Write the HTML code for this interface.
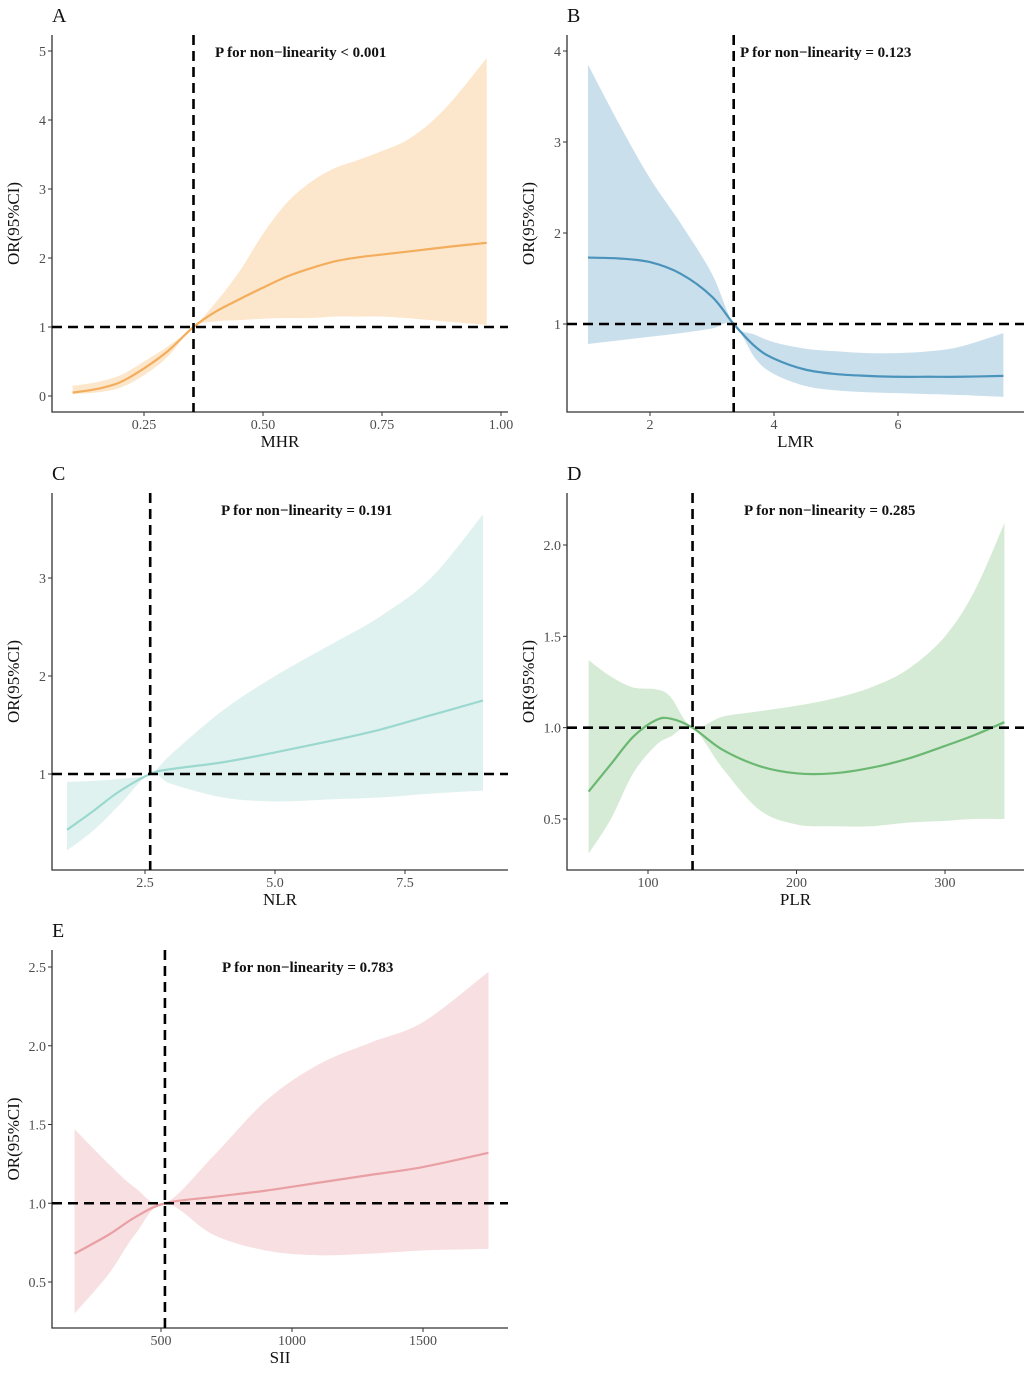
<!DOCTYPE html>
<html><head><meta charset="utf-8"><style>
html,body{margin:0;padding:0;background:#fff;}
svg{display:block;font-family:"Liberation Serif",serif;}
.tick{font-size:14px;fill:#4d4d4d;}
.ttl{font-size:17px;fill:#111;}
.lab{font-size:20px;fill:#111;}
.ann{font-size:15px;font-weight:bold;fill:#111;}
</style></head><body>
<svg id="chart" width="1026" height="1373" viewBox="0 0 1026 1373"></svg>
<script>
// Panel A (MHR)
const aX=[0.1,0.15,0.2,0.25,0.3,0.354,0.4,0.45,0.5,0.55,0.6,0.65,0.7,0.75,0.8,0.85,0.9,0.97];
const aY=[0.05,0.1,0.2,0.4,0.65,1.0,1.22,1.4,1.57,1.73,1.85,1.95,2.01,2.05,2.09,2.13,2.17,2.22];
const aHi=[0.15,0.2,0.3,0.5,0.72,1.0,1.35,1.8,2.35,2.8,3.1,3.3,3.42,3.55,3.7,3.95,4.3,4.9];
const aLo=[0.03,0.05,0.12,0.3,0.57,1.0,1.08,1.1,1.12,1.13,1.13,1.15,1.15,1.15,1.13,1.1,1.07,1.03];
const aXT=[0.25,0.5,0.75,1.0], aXL=["0.25","0.50","0.75","1.00"];
const aYT=[0,1,2,3,4,5], aYL=["0","1","2","3","4","5"];
// Panel B (LMR)
const bX=[1,1.5,2,2.5,3,3.35,3.7,4,4.5,5,5.5,6,6.5,7,7.7];
const bY=[1.73,1.72,1.68,1.55,1.3,1.0,0.75,0.62,0.5,0.45,0.43,0.42,0.42,0.42,0.43];
const bHi=[3.85,3.2,2.6,2.1,1.55,1.0,0.88,0.8,0.73,0.7,0.68,0.68,0.7,0.75,0.9];
const bLo=[0.78,0.82,0.86,0.9,0.95,1.0,0.62,0.45,0.32,0.27,0.25,0.24,0.23,0.22,0.2];
const bXT=[2,4,6], bXL=["2","4","6"];
const bYT=[1,2,3,4], bYL=["1","2","3","4"];
// Panel C (NLR)
const cX=[1,1.5,2,2.6,3,4,5,6,7,8,9];
const cY=[0.43,0.62,0.82,1.0,1.05,1.12,1.22,1.33,1.45,1.6,1.75];
const cHi=[0.92,0.93,0.95,1.0,1.2,1.65,2.0,2.3,2.6,3.0,3.65];
const cLo=[0.22,0.42,0.68,1.0,0.9,0.76,0.72,0.74,0.76,0.8,0.83];
const cXT=[2.5,5,7.5], cXL=["2.5","5.0","7.5"];
const cYT=[1,2,3], cYL=["1","2","3"];
// Panel D (PLR)
const dX=[60,75,90,105,115,130,150,175,200,225,250,275,300,320,340];
const dY=[0.65,0.8,0.95,1.04,1.05,1.0,0.88,0.79,0.75,0.75,0.78,0.83,0.9,0.96,1.03];
const dHi=[1.37,1.28,1.22,1.21,1.17,1.0,1.06,1.09,1.12,1.16,1.22,1.32,1.5,1.75,2.12];
const dLo=[0.31,0.5,0.75,0.9,0.95,1.0,0.78,0.55,0.47,0.46,0.46,0.48,0.49,0.5,0.5];
const dXT=[100,200,300], dXL=["100","200","300"];
const dYT=[0.5,1.0,1.5,2.0], dYL=["0.5","1.0","1.5","2.0"];
// Panel E (SII)
const eX=[170,300,400,515,700,900,1100,1300,1500,1750];
const eY=[0.68,0.8,0.91,1.0,1.04,1.08,1.13,1.18,1.23,1.32];
const eHi=[1.47,1.25,1.1,1.0,1.3,1.65,1.88,2.02,2.15,2.47];
const eLo=[0.3,0.55,0.8,1.0,0.8,0.7,0.67,0.68,0.7,0.71];
const eXT=[500,1000,1500], eXL=["500","1000","1500"];
const eYT=[0.5,1.0,1.5,2.0,2.5], eYL=["0.5","1.0","1.5","2.0","2.5"];
// Reference lines (knot)
const refX=[0.354,3.35,2.6,130,515];

const NS="http://www.w3.org/2000/svg";
const svg=document.getElementById('chart');
function mk(tag,attrs,parent){const e=document.createElementNS(NS,tag);for(const k in attrs)e.setAttribute(k,attrs[k]);(parent||svg).appendChild(e);return e;}
function spline(pts){let d="M"+pts[0][0]+","+pts[0][1];for(let i=0;i<pts.length-1;i++){const p0=pts[Math.max(0,i-1)],p1=pts[i],p2=pts[i+1],p3=pts[Math.min(pts.length-1,i+2)];const c1=[p1[0]+(p2[0]-p0[0])/6,p1[1]+(p2[1]-p0[1])/6],c2=[p2[0]-(p3[0]-p1[0])/6,p2[1]-(p3[1]-p1[1])/6];d+=" C"+c1[0]+","+c1[1]+" "+c2[0]+","+c2[1]+" "+p2[0]+","+p2[1];}return d;}
function splineCont(pts){return spline(pts).replace(/^M/,"L");}

function panel(c){
  const g=mk('g',{});
  
  
  const sx=v=>c.px0+(v-c.vx0)*(c.px1-c.px0)/(c.vx1-c.vx0);
  const sy=v=>c.py0+(v-c.vy0)*(c.py1-c.py0)/(c.vy1-c.vy0);
  const up=c.X.map((x,i)=>[sx(x),sy(c.Hi[i])]);
  const dn=c.X.map((x,i)=>[sx(x),sy(c.Lo[i])]).reverse();
  const band=mk('path',{d:spline(up)+" "+splineCont(dn)+" Z",fill:c.fill},g);
  
  
  const ln=mk('path',{d:spline(c.X.map((x,i)=>[sx(x),sy(c.Y[i])])),fill:'none',stroke:c.line,'stroke-width':2.2},g);
  
  
  const ax=mk('path',{d:`M${c.ax},${c.top} L${c.ax},${c.ay} L${c.right},${c.ay}`,fill:'none',stroke:'#333','stroke-width':1.3},g);
  
  
  c.XT.forEach((v,i)=>{const x=sx(v);mk('line',{x1:x,x2:x,y1:c.ay,y2:c.ay+4,stroke:'#333'},g);
    const t=mk('text',{x:x,y:c.ay+17,'text-anchor':'middle',class:'tick'},g);t.textContent=c.XL[i];
    
    });
  c.YT.forEach((v,i)=>{const y=sy(v);mk('line',{x1:c.ax-4,x2:c.ax,y1:y,y2:y,stroke:'#333'},g);
    const t=mk('text',{x:c.ax-6,y:y+5,'text-anchor':'end',class:'tick'},g);t.textContent=c.YL[i];
    
    });
  const rx=sx(c.ref);
  const vl=mk('line',{x1:rx,x2:rx,y1:c.top,y2:c.ay,stroke:'#000','stroke-width':2.6,'stroke-dasharray':'10,6'},g);
  
  
  const hl=mk('line',{x1:c.ax,x2:c.right,y1:sy(1),y2:sy(1),stroke:'#000','stroke-width':2.6,'stroke-dasharray':'10,6'},g);
  
  
  const xt=mk('text',{x:(c.ax+c.right)/2,y:c.ay+35,'text-anchor':'middle',class:'ttl'},g);xt.textContent=c.xtitle;
  
  
  const ym=(c.top+c.ay)/2, yx=c.ax-33;
  const yt=mk('text',{x:yx,y:ym,'text-anchor':'middle',class:'ttl',transform:`rotate(-90 ${yx} ${ym})`},g);yt.textContent="OR(95%CI)";
  
  
  const lb=mk('text',{x:c.ax,y:c.top-13,class:'lab'},g);lb.textContent=c.id;
  
  
  const an=mk('text',{x:c.annX,y:c.top+22,class:'ann'},g);an.textContent=c.ann;
  
  
}
const L={ax:52,right:508}, R={ax:567,right:1024};
panel({id:'A',...L,top:35,ay:412,px0:144,px1:501,vx0:0.25,vx1:1.0,py0:396,py1:51,vy0:0,vy1:5,X:aX,Y:aY,Hi:aHi,Lo:aLo,XT:aXT,XL:aXL,YT:aYT,YL:aYL,ref:refX[0],fill:'#fde7cc',line:'#f3ad5c',xtitle:'MHR',annX:215,ann:'P for non\u2212linearity < 0.001'});
panel({id:'B',...R,top:35,ay:412,px0:650,px1:898,vx0:2,vx1:6,py0:324,py1:51,vy0:1,vy1:4,X:bX,Y:bY,Hi:bHi,Lo:bLo,XT:bXT,XL:bXL,YT:bYT,YL:bYL,ref:refX[1],fill:'#c9dfec',line:'#4a93bb',xtitle:'LMR',annX:740,ann:'P for non\u2212linearity = 0.123'});
panel({id:'C',...L,top:493,ay:870,px0:145,px1:405,vx0:2.5,vx1:7.5,py0:774,py1:578,vy0:1,vy1:3,X:cX,Y:cY,Hi:cHi,Lo:cLo,XT:cXT,XL:cXL,YT:cYT,YL:cYL,ref:refX[2],fill:'#e0f2ef',line:'#9bd8cf',xtitle:'NLR',annX:221,ann:'P for non\u2212linearity = 0.191'});
panel({id:'D',...R,top:493,ay:870,px0:648,px1:945,vx0:100,vx1:300,py0:819,py1:545,vy0:0.5,vy1:2.0,X:dX,Y:dY,Hi:dHi,Lo:dLo,XT:dXT,XL:dXL,YT:dYT,YL:dYL,ref:refX[3],fill:'#d6ebd5',line:'#6ab872',xtitle:'PLR',annX:744,ann:'P for non\u2212linearity = 0.285'});
panel({id:'E',...L,top:950,ay:1328,px0:161,px1:423,vx0:500,vx1:1500,py0:1282,py1:967,vy0:0.5,vy1:2.5,X:eX,Y:eY,Hi:eHi,Lo:eLo,XT:eXT,XL:eXL,YT:eYT,YL:eYL,ref:refX[4],fill:'#f8dfe1',line:'#e8a0a5',xtitle:'SII',annX:222,ann:'P for non\u2212linearity = 0.783'});
</script>
</body></html>
